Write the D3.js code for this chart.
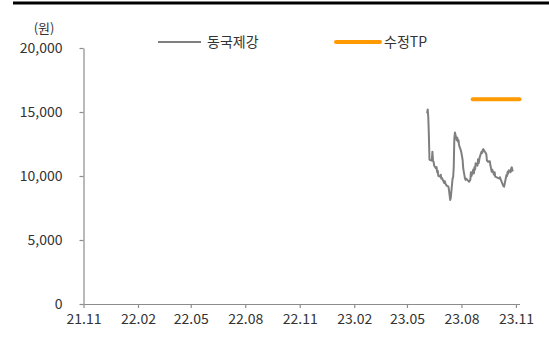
<!DOCTYPE html>
<html>
<head>
<meta charset="utf-8">
<script src="https://cdn.jsdelivr.net/npm/d3@7"></script>
<style>
  html, body { margin: 0; padding: 0; background: #fff; }
  svg { display: block; }
  text { font-family: "Noto Sans CJK KR", "Noto Sans", sans-serif; fill: #333; }
</style>
</head>
<body>
<svg id="chart" width="549" height="338"></svg>
<script>
// 동국제강 daily close (원)
const priceDates = [
  "2023-06-04","2023-06-05","2023-06-06","2023-06-07","2023-06-08","2023-06-09","2023-06-12","2023-06-13",
  "2023-06-14","2023-06-15","2023-06-16","2023-06-19","2023-06-20","2023-06-21","2023-06-22","2023-06-23",
  "2023-06-26","2023-06-27","2023-06-28","2023-06-29","2023-07-03","2023-07-04","2023-07-05","2023-07-07",
  "2023-07-10","2023-07-11","2023-07-12","2023-07-13","2023-07-14","2023-07-17","2023-07-18","2023-07-19",
  "2023-07-20","2023-07-21","2023-07-24","2023-07-25","2023-07-26","2023-07-27","2023-07-28","2023-07-31",
  "2023-08-01","2023-08-03","2023-08-04","2023-08-07","2023-08-08","2023-08-09","2023-08-11","2023-08-14",
  "2023-08-16","2023-08-17","2023-08-18","2023-08-21","2023-08-22","2023-08-23","2023-08-24","2023-08-25",
  "2023-08-28","2023-08-29","2023-08-30","2023-08-31","2023-09-01","2023-09-04","2023-09-05","2023-09-06",
  "2023-09-07","2023-09-08","2023-09-11","2023-09-12","2023-09-13","2023-09-14","2023-09-15","2023-09-18",
  "2023-09-19","2023-09-20","2023-09-21","2023-09-22","2023-09-25","2023-09-26","2023-09-27","2023-10-04",
  "2023-10-05","2023-10-06","2023-10-10","2023-10-11","2023-10-12","2023-10-13","2023-10-16","2023-10-17",
  "2023-10-18","2023-10-19","2023-10-20","2023-10-23","2023-10-24","2023-10-25","2023-10-26","2023-10-27"
];
const priceValues = [
  14900,15200,14600,13200,11300,11250,11200,11900,
  11200,11100,10800,10600,10700,10300,10400,10000,
  9950,10100,9800,9850,9450,9600,9400,9250,
  9170,8900,8500,8125,8300,9800,9900,10700,
  12950,13400,12800,13000,12700,12800,12400,12000,
  11800,11250,10600,9800,9700,9800,9700,9550,
  9700,10300,10000,10500,10200,10700,10500,11000,
  10800,11300,11000,11250,11500,11900,11800,12050,
  12100,12000,11800,11700,11200,11200,11100,11150,
  10800,10600,10340,10500,10100,10300,9950,9800,
  9900,9750,9300,9200,9170,9400,10080,10000,
  10340,10200,10450,10300,10600,10680,10420,10500
];

// 수정TP (revised target price)
const tpDates = ["2023-08-20", "2023-11-07"];
const tpValues = [16000, 16000];

// Axis settings
const xStart = "2021-11-01";
const xEnd = "2023-11-07";
const xTickDates = ["2021-11-01","2022-02-01","2022-05-01","2022-08-01","2022-11-01",
                    "2023-02-01","2023-05-01","2023-08-01","2023-11-01"];
const yTicks = [0, 5000, 10000, 15000, 20000];

const legendLabels = ["동국제강", "수정TP"];

const parse = d3.timeParse("%Y-%m-%d");
const svg = d3.select("#chart");

const x = d3.scaleTime()
  .domain([parse(xStart), parse(xEnd)])
  .range([83.5, 519.5]);
const y = d3.scaleLinear()
  .domain([0, 20000])
  .range([304, 48]);

// top rule
svg.append("rect")
  .attr("x", 13).attr("y", 1.5).attr("width", 536).attr("height", 3)
  .attr("fill", "#000");

const axisColor = "#8c8c8c";

// y axis
const yAxis = svg.append("g")
  .attr("transform", "translate(83.5,0)")
  .call(d3.axisLeft(y).tickValues(yTicks).tickFormat(d3.format(",")).tickSize(4).tickSizeOuter(0));
yAxis.select(".domain").attr("stroke", axisColor).attr("stroke-width", 1.2);
yAxis.selectAll(".tick line").attr("stroke", axisColor).attr("stroke-width", 1.2);
yAxis.selectAll(".tick text")
  .attr("x", -21)
  .style("font-size", "14px")
  .attr("fill", "#333");

// x axis
const xAxis = svg.append("g")
  .attr("transform", "translate(0,304)")
  .call(d3.axisBottom(x).tickValues(xTickDates.map(parse))
    .tickFormat(d3.timeFormat("%y.%m")).tickSize(4).tickSizeOuter(0));
xAxis.select(".domain").attr("stroke", axisColor).attr("stroke-width", 1.2);
xAxis.selectAll(".tick line").attr("stroke", axisColor).attr("stroke-width", 1.2);
xAxis.selectAll(".tick text")
  .attr("y", 10)
  .style("font-size", "14px")
  .attr("fill", "#333");

// unit label
svg.append("text")
  .attr("x", 44).attr("y", 33)
  .attr("text-anchor", "middle")
  .style("font-size", "13px")
  .text("(원)");

// price line
const priceData = priceDates.map((d, i) => ({ date: parse(d), value: priceValues[i] }));
const line = d3.line().x(d => x(d.date)).y(d => y(d.value));
svg.append("path")
  .datum(priceData)
  .attr("d", line)
  .attr("fill", "none")
  .attr("stroke", "#7f7f7f")
  .attr("stroke-width", 2)
  .attr("stroke-linejoin", "round");

// target price line
const tpData = tpDates.map((d, i) => ({ date: parse(d), value: tpValues[i] }));
svg.append("path")
  .datum(tpData)
  .attr("d", line)
  .attr("fill", "none")
  .attr("stroke", "#ff9a00")
  .attr("stroke-width", 4)
  .attr("stroke-linecap", "round");

// legend
const legend = svg.append("g");
legend.append("line")
  .attr("x1", 158).attr("x2", 201).attr("y1", 42).attr("y2", 42)
  .attr("stroke", "#7f7f7f").attr("stroke-width", 2);
legend.append("text")
  .attr("x", 207).attr("y", 47)
  .style("font-size", "14px")
  .text(legendLabels[0]);
legend.append("line")
  .attr("x1", 336).attr("x2", 380).attr("y1", 42).attr("y2", 42)
  .attr("stroke", "#ff9a00").attr("stroke-width", 4).attr("stroke-linecap", "round");
legend.append("text")
  .attr("x", 384).attr("y", 47)
  .style("font-size", "14px")
  .text(legendLabels[1]);
</script>
</body>
</html>
